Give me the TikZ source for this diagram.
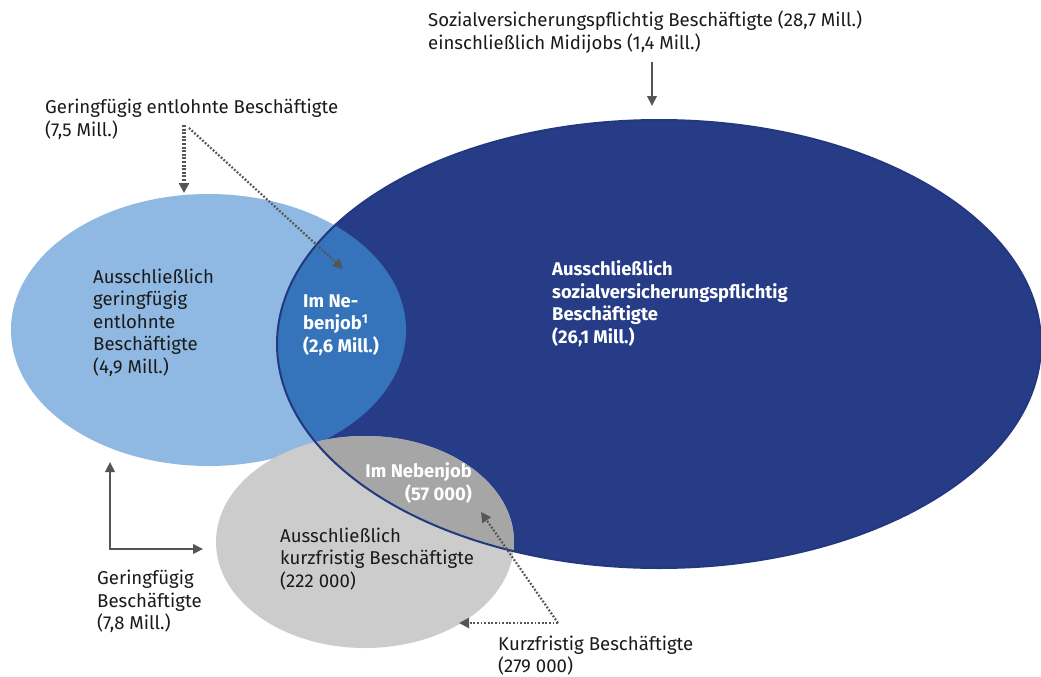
\documentclass[tikz,border=0pt]{standalone}
\usepackage{fontspec}
\setmainfont{Fira Sans}
\usetikzlibrary{arrows.meta}

\definecolor{svblue}{HTML}{263C87}
\definecolor{svline}{HTML}{22387F}
\definecolor{gflight}{HTML}{8FB9E3}
\definecolor{gfmid}{HTML}{3573BA}
\definecolor{kfgray}{HTML}{CCCCCC}
\definecolor{kfdark}{HTML}{A6A6A6}
\definecolor{arrowgray}{HTML}{555555}
\definecolor{textdark}{HTML}{1A1A1A}

% the three sets of employees
\def\svpath{(659,344) ellipse [x radius=382pt, y radius=224pt]}
\def\gfpath{(208.5,330) ellipse [x radius=197.5pt, y radius=136pt]}
\def\kfpath{(365,542) ellipse [x radius=149pt, y radius=106pt]}

\begin{document}
\begin{tikzpicture}[x=1pt,y=-1pt,
  lbl/.style={inner sep=0pt, align=left, anchor=west, text=textdark,
    font=\fontsize{18.6}{22.6}\selectfont},
  inlbl/.style={lbl, text=white, font=\fontsize{18.4}{22.6}\selectfont\bfseries},
  solidarrow/.style={draw=arrowgray, line width=2.2pt, line join=miter,
    -{Triangle[length=10pt,width=9.5pt]}},
  dotarrow/.style={draw=arrowgray, line width=3.2pt, dash pattern=on 2pt off 1.6pt,
    -{Triangle[length=10pt,width=10pt]}},
  thindotarrow/.style={draw=arrowgray, line width=2.2pt, dash pattern=on 1.8pt off 1.8pt,
    -{Triangle[length=10pt,width=10pt]}}
]
\useasboundingbox (0,0) rectangle (1041,677);
\fill[white] (0,0) rectangle (1041,677);

% filled sets and their overlaps
\fill[gflight] \gfpath;
\fill[svblue] \svpath;
\begin{scope}
  \clip \gfpath;
  \fill[gfmid] \svpath;
\end{scope}
\fill[kfgray] \kfpath;
\begin{scope}
  \clip \kfpath;
  \fill[kfdark] \svpath;
\end{scope}
\draw[svline, line width=2pt] \svpath;

% labels outside the sets
\node[lbl] (svlabel) at (428,32)
  {Sozialversicherungspflichtig Beschäftigte (28,7 Mill.)\\einschließlich Midijobs (1,4 Mill.)};
\node[lbl] (gflabel) at (45,119)
  {Geringfügig entlohnte Beschäftigte\\(7,5 Mill.)};
\node[lbl] (geslabel) at (97,601.5)
  {Geringfügig\\Beschäftigte\\(7,8 Mill.)};
\node[lbl] (kflabel) at (498,655.5)
  {Kurzfristig Beschäftigte\\(279 000)};

% labels inside the sets
\node[lbl] (gfonly) at (93,322.5)
  {Ausschließlich\\geringfügig\\entlohnte\\Beschäftigte\\(4,9 Mill.)};
\node[inlbl] (gfneben) at (303,325)
  {Im Ne-\\benjob\textsuperscript{1}\\(2,6 Mill.)};
\node[inlbl] (svonly) at (552,303.5)
  {Ausschließlich\\sozialversicherungspflichtig\\Beschäftigte\\(26,1 Mill.)};
\node[inlbl, align=right, anchor=east] (kfneben) at (472,483)
  {Im Nebenjob\\(57 000)};
\node[lbl] (kfonly) at (280,559)
  {Ausschließlich\\kurzfristig Beschäftigte\\(222 000)};

% connector end points
\coordinate (svA) at (652,62);
\coordinate (svB) at (652,106);
\coordinate (gfA) at (184,125);
\coordinate (gfB) at (184,193);
\coordinate (gfC) at (189,128);
\coordinate (gfD) at (343,269);
\coordinate (gesUp) at (110,462);
\coordinate (gesCorner) at (110,549);
\coordinate (gesRight) at (203,549);
\coordinate (kfCorner) at (558,623);
\coordinate (kfUp) at (481,512);
\coordinate (kfLeft) at (459,623);

% connectors
\draw[solidarrow] (svA) -- (svB);
\draw[dotarrow] (gfA) -- (gfB);
\draw[thindotarrow] (gfC) -- (gfD);
\draw[solidarrow, {Triangle[length=10pt,width=9.5pt]}-{Triangle[length=10pt,width=9.5pt]}]
  (gesUp) -- (gesCorner) -- (gesRight);
\draw[thindotarrow] (kfCorner) -- (kfUp);
\draw[thindotarrow] (kfCorner) -- (kfLeft);
\end{tikzpicture}
\end{document}
